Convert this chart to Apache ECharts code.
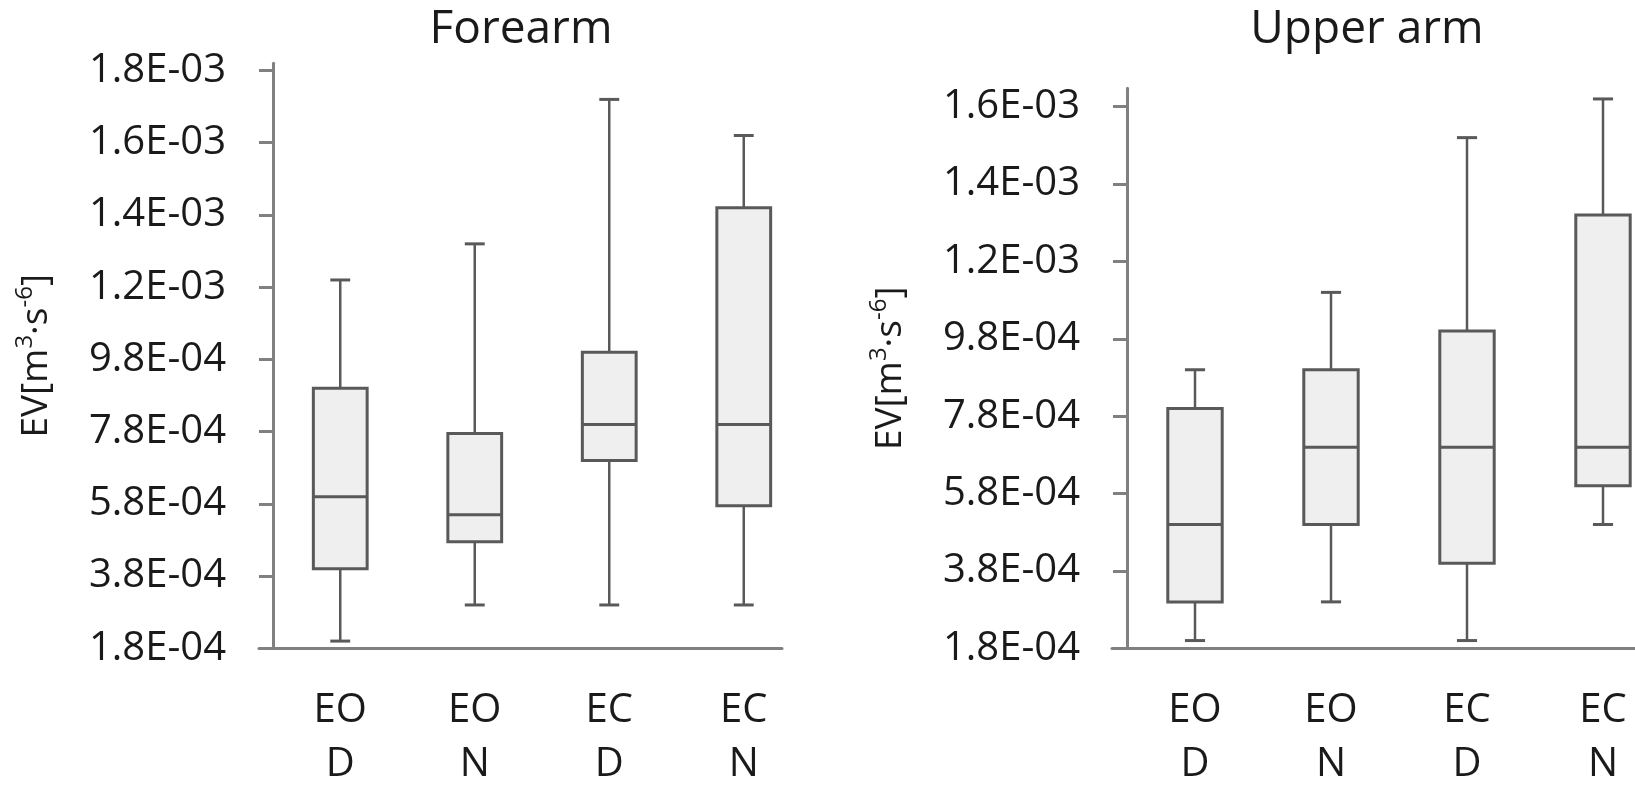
<!DOCTYPE html>
<html lang="en">
<head>
    <meta charset="UTF-8">
    <title>EV box plots</title>
    <script src="https://cdn.jsdelivr.net/npm/echarts@6.0.0/dist/echarts.min.js"></script>
    <style>
        html, body { margin: 0; padding: 0; background: #fff; }
        #main { width: 1635px; height: 800px; }
    </style>
</head>
<body>
<div id="main"></div>
<script>
    // categories
    const groups = ['EO', 'EO', 'EC', 'EC'];
    const conditions = ['D', 'N', 'D', 'N'];
    // y tick values (Excel style axis starting at 1.8E-04, step 2E-04)
    const forearmTicks = [1.8e-4, 3.8e-4, 5.8e-4, 7.8e-4, 9.8e-4, 1.18e-3, 1.38e-3, 1.58e-3, 1.78e-3];
    const upperTicks = [1.8e-4, 3.8e-4, 5.8e-4, 7.8e-4, 9.8e-4, 1.18e-3, 1.38e-3, 1.58e-3];

    // Forearm
    const forearmMin = [2.0e-4, 3.0e-4, 3.0e-4, 3.0e-4];
    const forearmQ1 = [4.0e-4, 4.75e-4, 7.0e-4, 5.75e-4];
    const forearmMedian = [6.0e-4, 5.5e-4, 8.0e-4, 8.0e-4];
    const forearmQ3 = [9.0e-4, 7.75e-4, 1.0e-3, 1.4e-3];
    const forearmMax = [1.2e-3, 1.3e-3, 1.7e-3, 1.6e-3];

    // Upper arm
    const upperMin = [2.0e-4, 3.0e-4, 2.0e-4, 5.0e-4];
    const upperQ1 = [3.0e-4, 5.0e-4, 4.0e-4, 6.0e-4];
    const upperMedian = [5.0e-4, 7.0e-4, 7.0e-4, 7.0e-4];
    const upperQ3 = [8.0e-4, 9.0e-4, 1.0e-3, 1.3e-3];
    const upperMax = [9.0e-4, 1.1e-3, 1.5e-3, 1.6e-3];

    const labels = groups.map((g, i) => g + '\n' + conditions[i]);
    const FONT = '"Open Sans", sans-serif';
    const TEXT = '#1a1a1a';
    const AXIS = '#808080';
    const BOX = '#595959';

    function rows(mn, q1, md, q3, mx) {
        return mn.map((v, i) => [i, v, q1[i], md[i], q3[i], mx[i]]);
    }

    // 1.2E-03 style
    function sci(v) {
        const parts = v.toExponential(1).split('e');
        const n = parseInt(parts[1], 10);
        return parts[0] + 'E' + (n < 0 ? '-' : '+') + String(Math.abs(n)).padStart(2, '0');
    }

    function renderBox(params, api) {
        const x = api.value(0);
        const pMin = api.coord([x, api.value(1)]);
        const pQ1 = api.coord([x, api.value(2)]);
        const pMed = api.coord([x, api.value(3)]);
        const pQ3 = api.coord([x, api.value(4)]);
        const pMax = api.coord([x, api.value(5)]);
        const cx = pMed[0];
        const bw = api.size([1, 0])[0] * 0.4;
        const cw = bw * 0.37;
        const line = { stroke: BOX, lineWidth: 2.5 };
        return {
            type: 'group',
            children: [
                { type: 'line', shape: { x1: cx, y1: pMax[1], x2: cx, y2: pQ3[1] }, style: line },
                { type: 'line', shape: { x1: cx - cw / 2, y1: pMax[1], x2: cx + cw / 2, y2: pMax[1] }, style: { stroke: BOX, lineWidth: 3 } },
                { type: 'line', shape: { x1: cx, y1: pQ1[1], x2: cx, y2: pMin[1] }, style: line },
                { type: 'line', shape: { x1: cx - cw / 2, y1: pMin[1], x2: cx + cw / 2, y2: pMin[1] }, style: { stroke: BOX, lineWidth: 3 } },
                { type: 'rect', shape: { x: cx - bw / 2, y: pQ3[1], width: bw, height: pQ1[1] - pQ3[1] }, style: { fill: '#efefef', stroke: BOX, lineWidth: 3 } },
                { type: 'line', shape: { x1: cx - bw / 2, y1: pMed[1], x2: cx + bw / 2, y2: pMed[1] }, style: { stroke: BOX, lineWidth: 3 } }
            ]
        };
    }

    function catAxis(gi) {
        return {
            gridIndex: gi,
            type: 'category',
            data: labels,
            axisLine: { show: false },
            axisTick: { show: false },
            axisLabel: { fontFamily: FONT, fontSize: 40, lineHeight: 54, color: TEXT, margin: 35, interval: 0 }
        };
    }

    function valAxis(gi, max, ticks) {
        return {
            gridIndex: gi,
            type: 'value',
            min: 1.8e-4,
            max: max,
            interval: 2e-4,
            name: '{a|EV[m}{s|3}{a|·s}{s|-6}{a|]}',
            nameLocation: 'middle',
            nameRotate: 90,
            nameGap: 214,
            nameTextStyle: {
                rich: {
                    a: { fontFamily: FONT, fontSize: 37, color: TEXT, lineHeight: 46 },
                    s: { fontFamily: FONT, fontSize: 24, color: TEXT, lineHeight: 46, verticalAlign: 'top', padding: [0, 0, 18, 0] }
                }
            },
            axisLine: { show: true, lineStyle: { color: AXIS, width: 3 } },
            axisTick: { show: true, length: 14, customValues: ticks, lineStyle: { color: AXIS, width: 3 } },
            axisLabel: { customValues: ticks, formatter: sci, fontFamily: FONT, fontSize: 40, color: TEXT, margin: 47 },
            splitLine: { show: false }
        };
    }

    function baseAxis(gi) {
        return {
            gridIndex: gi, type: 'value', min: 0, max: 1,
            axisLine: { show: true, onZero: false, lineStyle: { color: AXIS, width: 3 } },
            axisTick: { show: false }, axisLabel: { show: false }, splitLine: { show: false }
        };
    }

    function grid(left, top, width, height) {
        return { left: left, top: top, width: width, height: height, containLabel: false, outerBoundsMode: 'none' };
    }

    const chart = echarts.init(document.getElementById('main'));
    chart.setOption({
        backgroundColor: '#fff',
        animation: false,
        title: [
            { text: 'Forearm', left: 521, top: 7, padding: 0, textAlign: 'center',
              textStyle: { fontFamily: FONT, fontSize: 46, fontWeight: 'normal', color: TEXT } },
            { text: 'Upper arm', left: 1367, top: 7, padding: 0, textAlign: 'center',
              textStyle: { fontFamily: FONT, fontSize: 46, fontWeight: 'normal', color: TEXT } }
        ],
        grid: [
            grid(273, 63.3, 538, 585),
            grid(1127, 88.3, 544, 560),
            grid(259, 600, 523, 48.3),
            grid(1112, 600, 560, 48.3)
        ],
        xAxis: [catAxis(0), catAxis(1), baseAxis(2), baseAxis(3)],
        yAxis: [
            valAxis(0, 1.8e-3, forearmTicks),
            valAxis(1, 1.6275e-3, upperTicks),
            { gridIndex: 2, type: 'value', min: 0, max: 1, show: false },
            { gridIndex: 3, type: 'value', min: 0, max: 1, show: false }
        ],
        series: [
            {
                type: 'custom', name: 'Forearm', xAxisIndex: 0, yAxisIndex: 0,
                renderItem: renderBox,
                encode: { x: 0, y: [1, 2, 3, 4, 5] },
                data: rows(forearmMin, forearmQ1, forearmMedian, forearmQ3, forearmMax)
            },
            {
                type: 'custom', name: 'Upper arm', xAxisIndex: 1, yAxisIndex: 1,
                renderItem: renderBox,
                encode: { x: 0, y: [1, 2, 3, 4, 5] },
                data: rows(upperMin, upperQ1, upperMedian, upperQ3, upperMax)
            }
        ]
    });
</script>
</body>
</html>
